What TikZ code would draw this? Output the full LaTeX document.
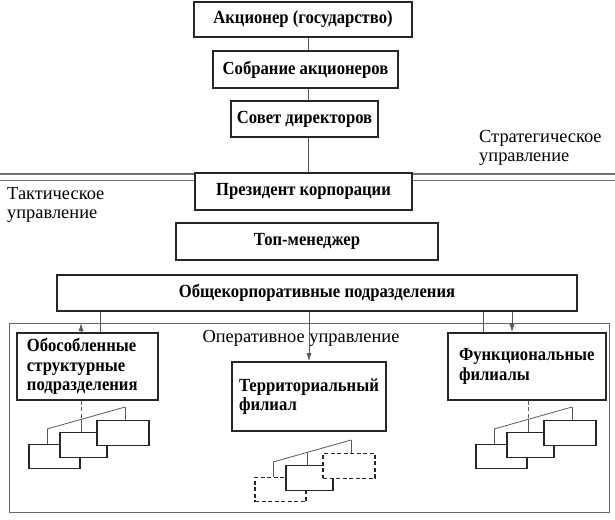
\documentclass[tikz,border=0pt]{standalone}
\usepackage{fontspec}
\setmainfont{Liberation Serif}
\newfontfamily\boxfont{Liberation Serif}[FakeStretch=0.9]
\usetikzlibrary{arrows.meta}

\begin{document}
\begin{tikzpicture}[x=1pt,y=-1pt,
    unit/.style={draw=black!85, line width=1.6pt, fill=white, inner sep=0pt,
      font=\boxfont\bfseries\fontsize{18.5}{19.5}\selectfont},
    subunit/.style={draw=black!85, line width=1.4pt, fill=white,
      minimum height=24.5pt, inner sep=0pt},
    link/.style={draw=black!65, line width=0.8pt},
    tip/.style={-{Latex[length=8pt,width=5pt]}},
    note/.style={font=\fontsize{18.4}{18.8}\selectfont, align=left, inner sep=0pt},
    sep/.style={draw=black!55, line width=#1},
    ldash/.style={dash pattern=on 4pt off 2.5pt}]
  \useasboundingbox (0,0) rectangle (615,519);
  \coordinate (spine) at (308,0);

  % strategic level
  \node[unit, minimum width=218pt, minimum height=35pt] (akc) at (303,19.5) {Акционер (государство)};
  \node[unit, minimum width=185pt, minimum height=37pt] (sobr) at (305.5,69.5) {Собрание акционеров};
  \node[unit, minimum width=147pt, minimum height=36pt] (sovet) at (304.5,119) {Совет директоров};
  \node[note, anchor=west] (strat) at (479,147.5) {Стратегическое\\управление};

  \draw[sep=1.5pt] (0,174) -- (615,174);
  \draw[sep=1pt] (0,180) -- (615,180);

  % tactical level
  \node[unit, minimum width=217pt, minimum height=37pt] (prez) at (303.5,191.5) {Президент корпорации};
  \node[unit, minimum width=262pt, minimum height=37pt] (top) at (307,241.5) {Топ-менеджер};
  \node[unit, minimum width=520pt, minimum height=36pt] (obsh) at (317,293) {Общекорпоративные подразделения};
  \node[note, anchor=west] (takt) at (7,205) {Тактическое\\управление};

  \draw[link] (akc.south -| spine) -- (sobr.north -| spine);
  \draw[link] (sobr.south -| spine) -- (sovet.north -| spine);
  \draw[link] (sovet.south -| spine) -- (prez.north -| spine);

  % operational level
  \draw[draw=black!60, line width=1pt] (9,323) rectangle (609,512);
  \coordinate (frametop) at (9,323);
  \node[note] (oper) at (301,338) {Оперативное управление};

  \node[unit, align=left, text width=121pt, inner xsep=10pt, minimum height=67pt] (obos) at (87.5,366.5) {Обособленные\\структурные\\подразделения};
  \node[unit, align=left, text width=140pt, inner xsep=7pt, minimum height=69pt] (terr) at (309,396.5) {Территориальный\\филиал};
  \node[unit, align=left, text width=136pt, inner xsep=11pt, minimum height=67pt] (func) at (527,366.5) {Функциональные\\филиалы};

  \coordinate (p1) at ([xshift=12.5pt]obos.north);
  \coordinate (p2) at ([xshift=-6.5pt]obos.north);
  \coordinate (p3) at ([xshift=-44pt]func.north);
  \coordinate (p4) at ([xshift=-15pt]func.north);

  \draw[link] (p1 |- obsh.south) -- (p1);
  \draw[link, ldash, tip] (p2) -- (p2 |- frametop);
  \draw[link, tip] (terr.north |- obsh.south) -- (terr.north);
  \draw[link] (p3 |- obsh.south) -- (p3);
  \draw[link, tip] (p4 |- obsh.south) -- (p4);

  % small units
  \foreach \g/\dx/\dy/\ls in {l/0/0/solid, m/226/33/ldash, r/447/0/solid} {
    \node[subunit, \ls, minimum width=51pt] (\g1) at (54.5+\dx,456.5+\dy) {};
    \node[subunit, minimum width=47pt] (\g2) at (83.5+\dx,445+\dy) {};
    \node[subunit, \ls, minimum width=52pt] (\g3) at (123+\dx,433+\dy) {};
    \coordinate (\g a) at (47+\dx,429+\dy);
    \coordinate (\g b) at (81+\dx,419.4+\dy);
    \coordinate (\g c) at (125+\dx,407+\dy);
    \draw[link] (\g a) -- (\g c);
    \draw[link] (\g a) -- (\g a |- \g1.north);
    \draw[link] (\g b) -- (\g b |- \g2.north);
    \draw[link] (\g c) -- (\g c |- \g3.north);
  }
  \draw[link, ldash] (lb |- obos.south) -- (lb);
  \draw[link, ldash] (rb |- func.south) -- (rb);
\end{tikzpicture}
\end{document}
